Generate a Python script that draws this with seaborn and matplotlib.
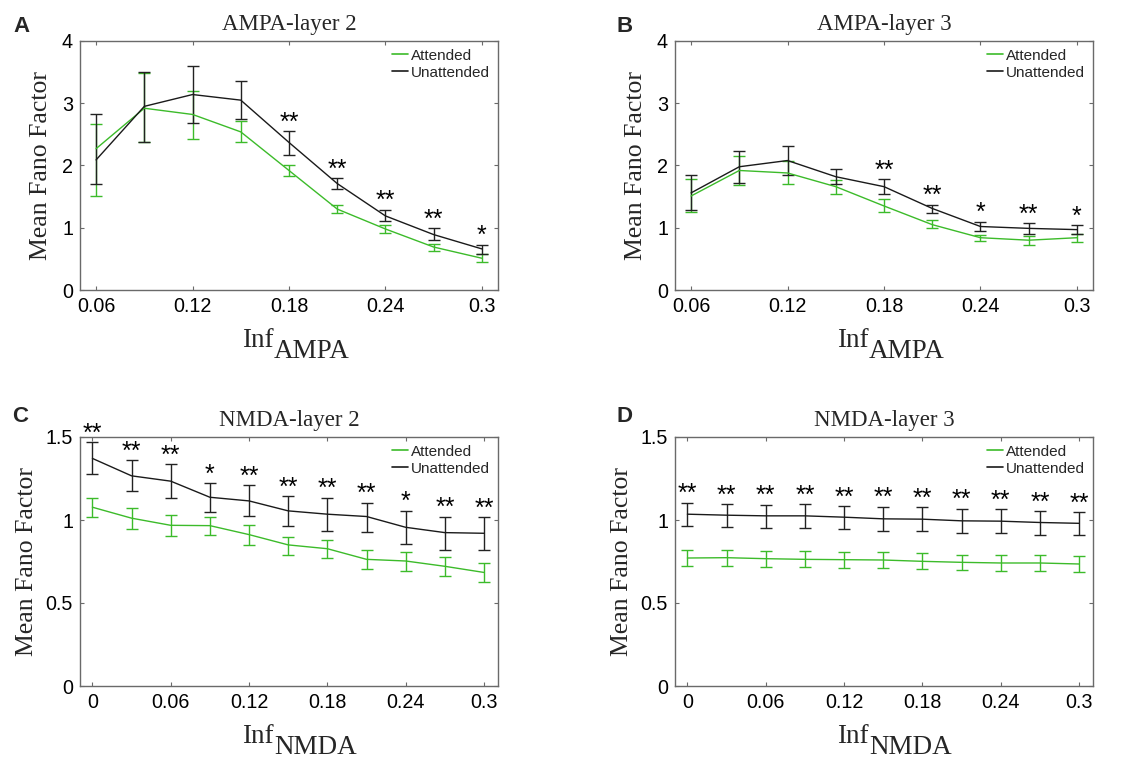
import matplotlib
matplotlib.use("Agg")
import matplotlib.pyplot as plt
from matplotlib.lines import Line2D
import seaborn as sns
import pandas as pd
import numpy as np

# ---------------- data ----------------
x_ampa = [0.06, 0.09, 0.12, 0.15, 0.18, 0.21, 0.24, 0.27, 0.30]
x_nmda = [0.00, 0.03, 0.06, 0.09, 0.12, 0.15, 0.18, 0.21, 0.24, 0.27, 0.30]

# Panel A: AMPA-layer 2
a_att = [2.27, 2.92, 2.82, 2.54, 1.92, 1.30, 0.98, 0.69, 0.51]
a_att_hi = [2.66, 3.49, 3.20, 2.71, 2.01, 1.37, 1.04, 0.74, 0.58]
a_att_lo = [1.51, 2.37, 2.43, 2.37, 1.83, 1.23, 0.91, 0.62, 0.45]
a_un = [2.09, 2.95, 3.14, 3.05, 2.37, 1.71, 1.19, 0.89, 0.66]
a_un_hi = [2.82, 3.51, 3.60, 3.35, 2.55, 1.80, 1.29, 0.99, 0.73]
a_un_lo = [1.71, 2.38, 2.68, 2.74, 2.17, 1.62, 1.11, 0.80, 0.58]
a_sig = ["", "", "", "", "**", "**", "**", "**", "*"]

# Panel B: AMPA-layer 3
b_att = [1.51, 1.92, 1.88, 1.66, 1.35, 1.05, 0.84, 0.80, 0.84]
b_att_hi = [1.79, 2.16, 2.08, 1.77, 1.46, 1.12, 0.89, 0.86, 0.90]
b_att_lo = [1.25, 1.68, 1.71, 1.55, 1.25, 0.99, 0.78, 0.73, 0.77]
b_un = [1.56, 1.98, 2.08, 1.82, 1.66, 1.31, 1.02, 0.99, 0.97]
b_un_hi = [1.84, 2.24, 2.32, 1.94, 1.78, 1.37, 1.10, 1.07, 1.04]
b_un_lo = [1.29, 1.72, 1.84, 1.70, 1.55, 1.24, 0.95, 0.90, 0.90]
b_sig = ["", "", "", "", "**", "**", "*", "**", "*"]

# Panel C: NMDA-layer 2
c_att = [1.077, 1.011, 0.968, 0.966, 0.912, 0.850, 0.827, 0.763, 0.753, 0.721, 0.684]
c_att_hi = [1.130, 1.075, 1.030, 1.020, 0.968, 0.900, 0.878, 0.817, 0.810, 0.777, 0.743]
c_att_lo = [1.020, 0.946, 0.906, 0.908, 0.852, 0.790, 0.771, 0.705, 0.695, 0.662, 0.628]
c_un = [1.371, 1.266, 1.234, 1.137, 1.115, 1.055, 1.035, 1.021, 0.956, 0.924, 0.920]
c_un_hi = [1.468, 1.359, 1.335, 1.220, 1.210, 1.144, 1.135, 1.105, 1.057, 1.021, 1.017]
c_un_lo = [1.276, 1.174, 1.133, 1.049, 1.023, 0.962, 0.936, 0.930, 0.854, 0.821, 0.821]
c_sig = ["**", "**", "**", "*", "**", "**", "**", "**", "*", "**", "**"]

# Panel D: NMDA-layer 3
d_att = [0.771, 0.773, 0.767, 0.763, 0.761, 0.759, 0.751, 0.745, 0.741, 0.741, 0.735]
d_att_hi = [0.819, 0.819, 0.815, 0.811, 0.807, 0.807, 0.799, 0.791, 0.789, 0.787, 0.781]
d_att_lo = [0.723, 0.725, 0.719, 0.715, 0.713, 0.713, 0.705, 0.699, 0.695, 0.693, 0.687]
d_un = [1.035, 1.029, 1.025, 1.025, 1.017, 1.007, 1.005, 0.995, 0.993, 0.985, 0.980]
d_un_hi = [1.105, 1.097, 1.093, 1.097, 1.085, 1.081, 1.077, 1.069, 1.067, 1.055, 1.049]
d_un_lo = [0.964, 0.960, 0.954, 0.952, 0.944, 0.934, 0.932, 0.922, 0.920, 0.912, 0.908]
d_sig = ["**"] * 11

ampa_ticks = [0.06, 0.12, 0.18, 0.24, 0.30]
ampa_ticklabels = ["0.06", "0.12", "0.18", "0.24", "0.3"]
nmda_ticks = [0.0, 0.06, 0.12, 0.18, 0.24, 0.30]
nmda_ticklabels = ["0", "0.06", "0.12", "0.18", "0.24", "0.3"]
ampa_yticks = [0, 1, 2, 3, 4]
ampa_yticklabels = ["0", "1", "2", "3", "4"]
nmda_yticks = [0, 0.5, 1.0, 1.5]
nmda_yticklabels = ["0", "0.5", "1", "1.5"]

titles = ["AMPA-layer 2", "AMPA-layer 3", "NMDA-layer 2", "NMDA-layer 3"]
letters = ["A", "B", "C", "D"]
series_names = ["Attended", "Unattended"]

# ---------------- style ----------------
sns.set_theme(style="ticks")
plt.rcParams["font.family"] = ["Liberation Sans", "DejaVu Sans"]
plt.rcParams["axes.linewidth"] = 1.0

GREEN = "#3cbb2a"
BLACK = "#1a1a1a"
SPINE = "#6a6a6a"
SERIF = ["Liberation Serif", "DejaVu Serif"]

fig = plt.figure(figsize=(11.48, 7.6), dpi=100)
W, H = 1148.0, 760.0

def add_ax(left, top, right, bottom):
    return fig.add_axes([left / W, 1 - bottom / H, (right - left) / W, (bottom - top) / H])

axes = [
    add_ax(80, 41, 498, 290),
    add_ax(675, 41, 1093, 290),
    add_ax(80, 437, 498, 686),
    add_ax(675, 437, 1093, 686),
]

panels = [
    (x_ampa, a_att, a_att_lo, a_att_hi, a_un, a_un_lo, a_un_hi, a_sig, "AMPA"),
    (x_ampa, b_att, b_att_lo, b_att_hi, b_un, b_un_lo, b_un_hi, b_sig, "AMPA"),
    (x_nmda, c_att, c_att_lo, c_att_hi, c_un, c_un_lo, c_un_hi, c_sig, "NMDA"),
    (x_nmda, d_att, d_att_lo, d_att_hi, d_un, d_un_lo, d_un_hi, d_sig, "NMDA"),
]

letter_pos = [(13, 32), (617, 32), (12, 422), (617, 422)]

for i, (ax, p) in enumerate(zip(axes, panels)):
    x, att, att_lo, att_hi, un, un_lo, un_hi, sig, kind = p
    df = pd.DataFrame({
        "x": list(x) * 2,
        "y": list(att) + list(un),
        "cond": [series_names[0]] * len(x) + [series_names[1]] * len(x),
    })
    sns.lineplot(data=df, x="x", y="y", hue="cond", ax=ax,
                 palette={series_names[0]: GREEN, series_names[1]: BLACK},
                 linewidth=1.0, legend=False, zorder=3)
    att_a = np.array(att); un_a = np.array(un)
    ax.errorbar(x, att_a, yerr=[att_a - np.array(att_lo), np.array(att_hi) - att_a],
                fmt="none", ecolor=GREEN, elinewidth=1.0, capsize=4.5, capthick=1.0, zorder=2)
    ax.errorbar(x, un_a, yerr=[un_a - np.array(un_lo), np.array(un_hi) - un_a],
                fmt="none", ecolor="#222222", elinewidth=1.0, capsize=4.5, capthick=1.0, zorder=2)
    for xi, top, s in zip(x, un_hi, sig):
        if s:
            ax.annotate(s, xy=(xi, top), xytext=(0, 1.0), textcoords="offset points",
                        ha="center", va="baseline", fontsize=18, color="black",
                        annotation_clip=False)

    if kind == "AMPA":
        ax.set_xlim(0.05, 0.31)
        ax.set_ylim(0, 4)
        ax.set_xticks(ampa_ticks)
        ax.set_xticklabels(ampa_ticklabels)
        ax.set_yticks(ampa_yticks)
        ax.set_yticklabels(ampa_yticklabels)
        ylab_x = -0.067
    else:
        ax.set_xlim(-0.0095, 0.3107)
        ax.set_ylim(0, 1.5)
        ax.set_xticks(nmda_ticks)
        ax.set_xticklabels(nmda_ticklabels)
        ax.set_yticks(nmda_yticks)
        ax.set_yticklabels(nmda_yticklabels)
        ylab_x = -0.100

    ax.tick_params(direction="in", length=3, width=0.8, color=SPINE,
                   top=True, right=True, labelsize=14.2, labelcolor="black", pad=5)
    for sp in ax.spines.values():
        sp.set_color(SPINE)
        sp.set_linewidth(1.0)

    ax.set_title(titles[i], family=SERIF, fontsize=16.5, pad=8)
    ax.set_ylabel("Mean Fano Factor", family=SERIF, fontsize=18.5)
    ax.yaxis.set_label_coords(ylab_x, 0.5)
    ax.set_xlabel("")
    # x label "Inf" with large subscript
    ax.text(0.464, -0.228, "Inf", transform=ax.transAxes, family=SERIF,
            fontsize=19.5, ha="right", va="baseline")
    ax.text(0.464, -0.272, kind, transform=ax.transAxes, family=SERIF,
            fontsize=19.5, ha="left", va="baseline")

    # legend
    handles = [Line2D([], [], color=GREEN, lw=1.2), Line2D([], [], color=BLACK, lw=1.2)]
    ax.legend(handles, series_names, loc="upper right", bbox_to_anchor=(1.0, 1.0),
              frameon=False, fontsize=11, handlelength=1.0, handletextpad=0.25,
              borderaxespad=0.15, borderpad=0.35, labelspacing=0.2)

    lx, ly = letter_pos[i]
    fig.text(lx / W, 1 - ly / H, letters[i], fontsize=16, fontweight="bold",
             ha="left", va="baseline")

fig.savefig("out.png", dpi=100)
